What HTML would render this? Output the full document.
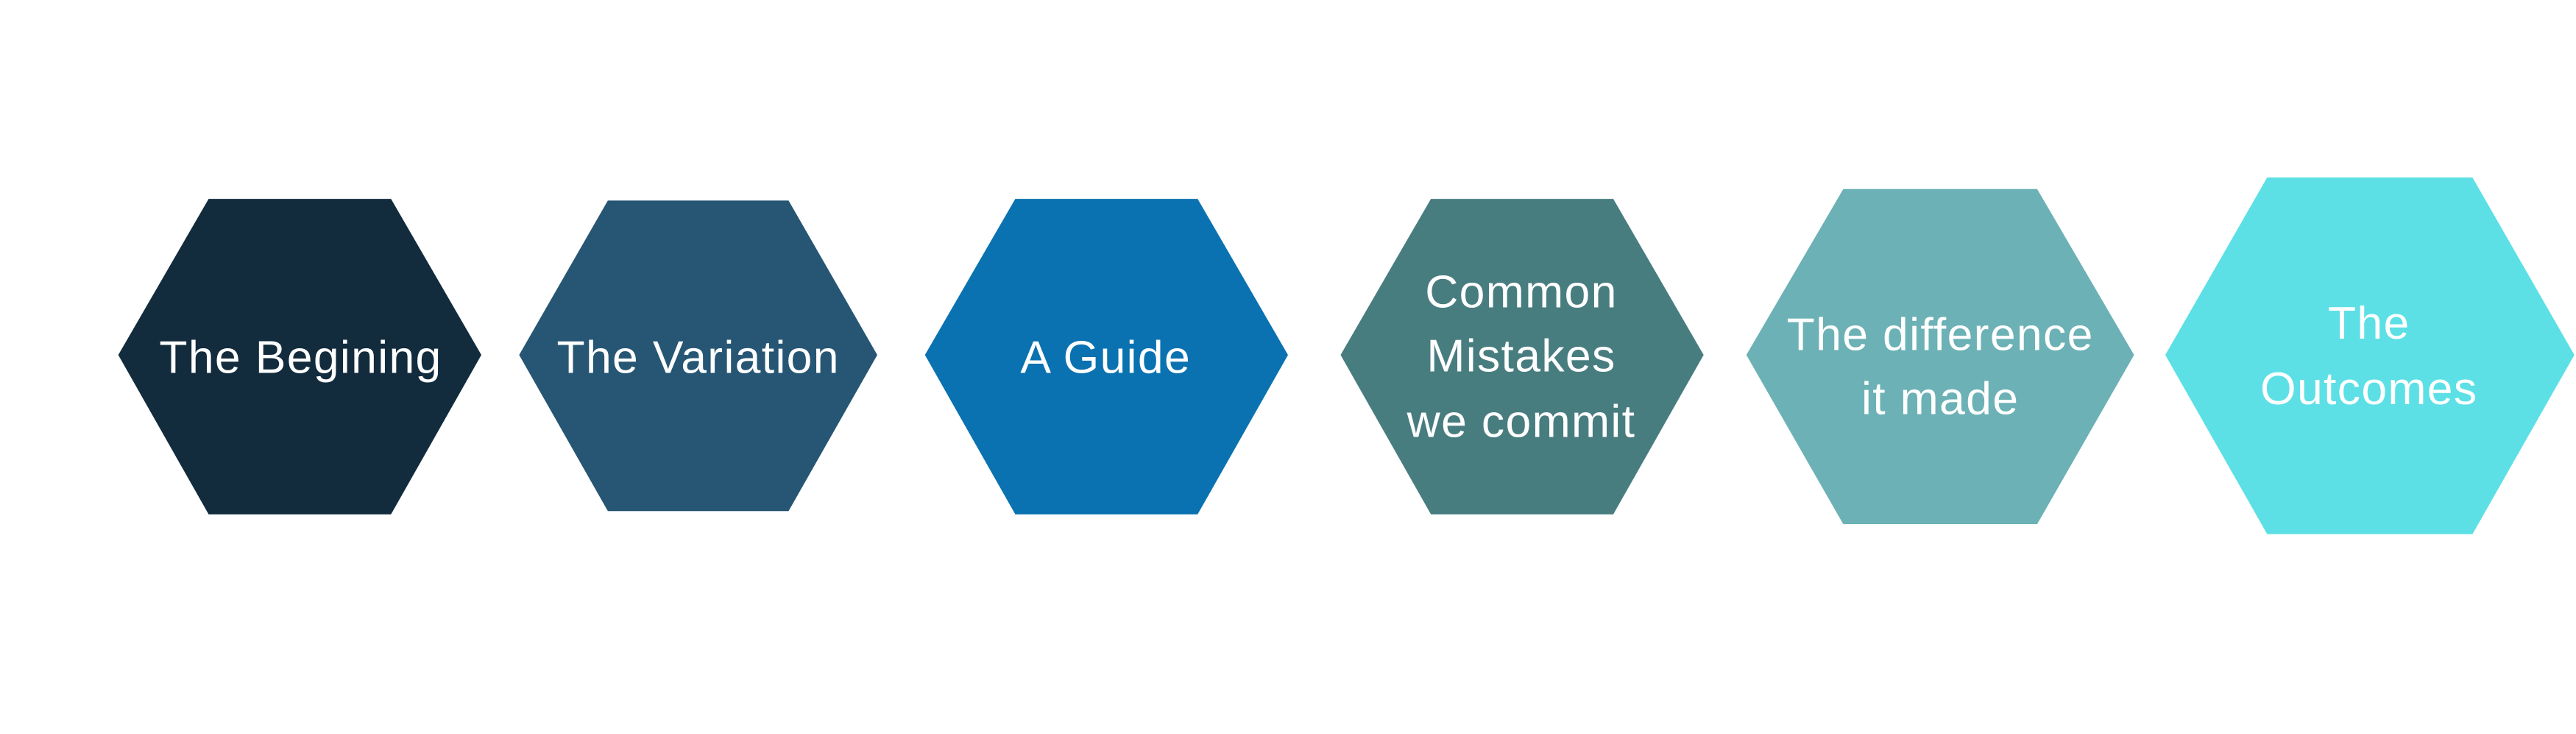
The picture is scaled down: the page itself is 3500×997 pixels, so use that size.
<!DOCTYPE html>
<html><head><meta charset="utf-8"><style>
html,body{margin:0;padding:0;background:#fff;width:3500px;height:997px;overflow:hidden}
svg{display:block}
text{font-family:"Liberation Sans",sans-serif;fill:#fff;font-size:28px;letter-spacing:0.6px;text-anchor:middle}
</style></head><body>
<svg width="3500" height="997" viewBox="0 0 1568 446.66" preserveAspectRatio="none">
<polygon points="72,216 127,121 238,121 293,216 238,313 127,313" fill="#122b3d"/>
<polygon points="316,216 370,122 480,122 534,216 480,311 370,311" fill="#265673"/>
<polygon points="563,216 618,121 729,121 784,216 729,313 618,313" fill="#0a72b0"/>
<polygon points="816,216 871,121 982,121 1037,216 982,313 871,313" fill="#487d80"/>
<polygon points="1063,216 1122,115 1240,115 1299,216 1240,319 1122,319" fill="#6cb1b5"/>
<polygon points="1318,216 1380,108 1505,108 1567,216 1505,325 1380,325" fill="#5ce0e5"/>
<text x="183" y="227">The Begining</text>
<text x="425" y="227">The Variation</text>
<text x="673" y="227">A Guide</text>
<text x="926" y="187">Common</text>
<text x="926" y="226">Mistakes</text>
<text x="926" y="266">we commit</text>
<text x="1181" y="213">The difference</text>
<text x="1181" y="252">it made</text>
<text x="1442" y="206">The</text>
<text x="1442" y="246">Outcomes</text>
</svg>
</body></html>
